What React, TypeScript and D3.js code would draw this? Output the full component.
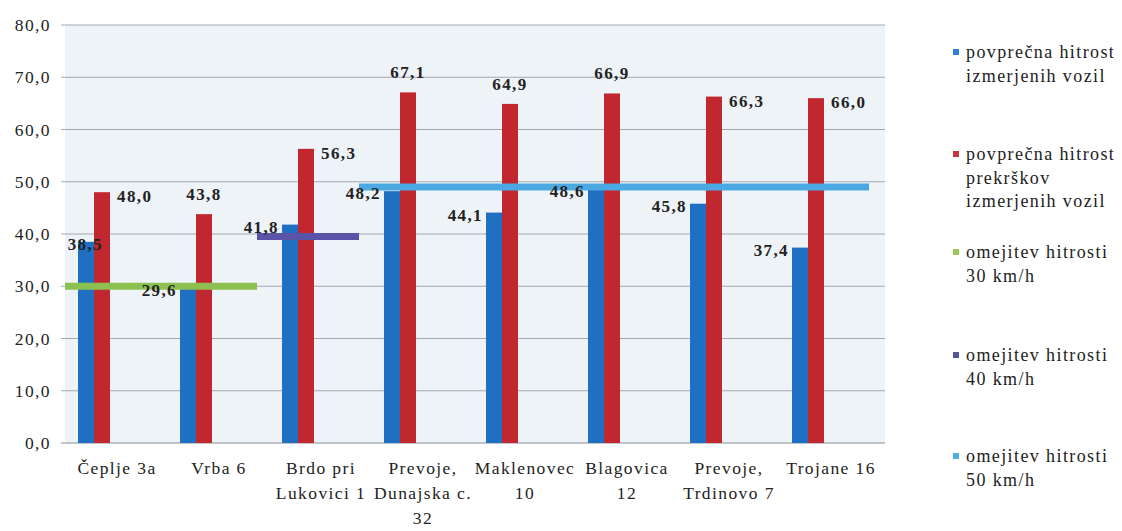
import React from "react";
import * as d3 from "d3";

const categories: string[][] = [
  ["Čeplje 3a"],
  ["Vrba 6"],
  ["Brdo pri", "Lukovici 1"],
  ["Prevoje,", "Dunajska c.", "32"],
  ["Maklenovec", "10"],
  ["Blagovica", "12"],
  ["Prevoje,", "Trdinovo 7"],
  ["Trojane 16"],
];
const avgAll = [38.5, 29.6, 41.8, 48.2, 44.1, 48.6, 45.8, 37.4];
const avgViol = [48.0, 43.8, 56.3, 67.1, 64.9, 66.9, 66.3, 66.0];
const redLabelPos = ["right", "above", "right", "above", "above", "above", "right", "right"];
// speed-limit segments: value, first category index, last category index (inclusive)
const limitValues = [30, 39.5, 49];
const limitFrom = [0, 2, 3];
const limitTo = [1, 2, 7];
const yTicks = [0, 10, 20, 30, 40, 50, 60, 70, 80];
const fmt = (v: number) => v.toFixed(1).replace(".", ",");

const legendItems = [
  { color: "#2f7fd3", lines: ["povprečna hitrost", "izmerjenih vozil"] },
  { color: "#c0393f", lines: ["povprečna hitrost", "prekrškov", "izmerjenih vozil"] },
  { color: "#9bc65a", lines: ["omejitev hitrosti", "30 km/h"] },
  { color: "#5552a0", lines: ["omejitev hitrosti", "40 km/h"] },
  { color: "#4fb0e6", lines: ["omejitev hitrosti", "50 km/h"] },
];
const limitColors = ["#8cc152", "#5a54a8", "#4aa8e2"];

export default function App() {
  const W = 1122, H = 531;
  const plotL = 65, plotR = 885, plotT = 25, plotB = 443;
  const y = d3.scaleLinear().domain([0, 80]).range([plotB, plotT]);
  const x = d3.scaleBand<number>().domain(d3.range(categories.length)).range([43, 859]).paddingInner(0);
  const bw = 16;
  const font = '"Liberation Serif", "Times New Roman", "DejaVu Serif", serif';
  const ts = { fontFamily: font, letterSpacing: "1.4px" };
  const bandStart = (i: number) => (i < categories.length ? (x(i) as number) : 859);

  return (
    <svg width={W} height={H} style={{ position: "absolute", left: 0, top: 0, background: "#fff", fontFamily: font }}>
      <rect x={plotL} y={plotT} width={plotR - plotL} height={plotB - plotT} fill="#eef3f8" />
      {yTicks.map((t) => (
        <g key={t}>
          <line x1={plotL - 4} x2={plotR} y1={y(t)} y2={y(t)} stroke={t === 0 ? "#8a8f96" : "#a2a8b0"} strokeWidth={1} />
          <text x={51} y={y(t)} dy="0.35em" textAnchor="end" fontSize={17.5} fill="#222" style={ts}>
            {fmt(t)}
          </text>
        </g>
      ))}
      {avgAll.map((v, i) => {
        const c = (x(i) as number) + x.bandwidth() / 2;
        return (
          <g key={"b" + i}>
            <rect x={c - bw} y={y(v)} width={bw} height={y(0) - y(v)} fill="#1f6fc2" />
            <rect x={c} y={y(avgViol[i])} width={bw} height={y(0) - y(avgViol[i])} fill="#c1272f" />
          </g>
        );
      })}
      {limitValues.map((v, k) => {
        const x1 = Math.max(plotL, bandStart(limitFrom[k]) + 10);
        const x2 = bandStart(limitTo[k] + 1) + 10;
        return <line key={"l" + k} x1={x1} x2={x2} y1={y(v)} y2={y(v)} stroke={limitColors[k]} strokeWidth={7} />;
      })}
      {avgAll.map((v, i) => {
        const c = (x(i) as number) + x.bandwidth() / 2;
        const lx = Math.max(c - bw - 3, plotL + 38);
        return (
          <text key={"bl" + i} x={lx} y={y(v) + 2} dy="0.35em" textAnchor="end" fontSize={17} fontWeight="bold" fill="#222" style={ts}>
            {fmt(v)}
          </text>
        );
      })}
      {avgViol.map((v, i) => {
        const c = (x(i) as number) + x.bandwidth() / 2;
        const right = redLabelPos[i] === "right";
        return (
          <text
            key={"rl" + i}
            x={right ? c + bw + 7 : c + bw / 2}
            y={right ? y(v) + 4 : y(v) - 20}
            dy="0.35em"
            textAnchor={right ? "start" : "middle"}
            fontSize={17}
            fontWeight="bold"
            fill="#222"
            style={ts}
          >
            {fmt(v)}
          </text>
        );
      })}
      {categories.map((lines, i) => {
        const c = (x(i) as number) + x.bandwidth() / 2 + 23;
        return (
          <text key={"c" + i} textAnchor="middle" fontSize={17.5} fill="#222" style={ts}>
            {lines.map((ln, j) => (
              <tspan key={j} x={c} y={474 + j * 25}>
                {ln}
              </tspan>
            ))}
          </text>
        );
      })}
      {legendItems.map((it, k) => {
        const top = [53, 155, 253, 356, 457][k];
        return (
          <g key={"lg" + k}>
            <rect x={953} y={top - 4} width={6} height={6} fill={it.color} />
            <text fontSize={18} fill="#222" style={ts}>
              {it.lines.map((ln, j) => (
                <tspan key={j} x={966} y={top + 5 + j * 23.5}>
                  {ln}
                </tspan>
              ))}
            </text>
          </g>
        );
      })}
    </svg>
  );
}
